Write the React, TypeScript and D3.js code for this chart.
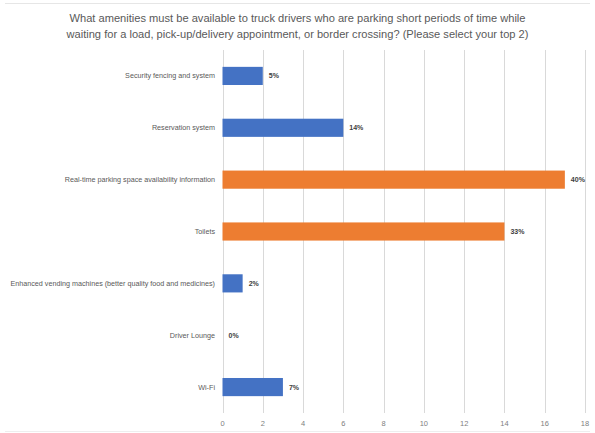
import React from "react";
import * as d3 from "d3";

const categories = [
  "Security fencing and system",
  "Reservation system",
  "Real-time parking space availability information",
  "Toilets",
  "Enhanced vending machines (better quality food and medicines)",
  "Driver Lounge",
  "Wi-Fi",
];
const counts = [2, 6, 17, 14, 1, 0, 3];
const percentLabels = ["5%", "14%", "40%", "33%", "2%", "0%", "7%"];
const highlighted = [false, false, true, true, false, false, false];
const xTicks = [0, 2, 4, 6, 8, 10, 12, 14, 16, 18];
const titleLines = [
  "What amenities must be available to truck drivers who are parking short periods of time while",
  "waiting for a load, pick-up/delivery appointment, or border crossing? (Please select your top 2)",
];

const W = 595;
const H = 433;
const FONT = "'Liberation Sans', Arial, sans-serif";

export default function App() {
  const x = d3.scaleLinear().domain([0, 18]).range([222.5, 585]);
  const y = d3
    .scaleBand<string>()
    .domain(categories)
    .range([50, 413])
    .paddingInner(0.65)
    .paddingOuter(0.325);

  return (
    <svg
      width={W}
      height={H}
      style={{ position: "absolute", left: 0, top: 0, display: "block", background: "#fff" }}
    >
      <line x1={5} x2={590} y1={3.5} y2={3.5} stroke="#e6e6e6" strokeWidth={1} />
      <line x1={5} x2={590} y1={431.5} y2={431.5} stroke="#eeeeee" strokeWidth={1} />
      {titleLines.map((t, i) => (
        <text
          key={i}
          x={W / 2}
          y={22 + i * 15.5}
          textAnchor="middle"
          fontFamily={FONT}
          fontSize={11.5}
          fill="#595959"
          textLength={i === 0 ? 456 : 462}
          lengthAdjust="spacingAndGlyphs"
        >
          {t}
        </text>
      ))}
      {xTicks.map((t) => (
        <g key={t}>
          <line
            x1={Math.round(x(t)) + 0.5}
            x2={Math.round(x(t)) + 0.5}
            y1={50}
            y2={413}
            stroke="#d9d9d9"
            strokeWidth={1}
          />
          <text
            x={x(t)}
            y={426}
            textAnchor="middle"
            fontFamily={FONT}
            fontSize={7.5}
            fill="#808080"
          >
            {t}
          </text>
        </g>
      ))}
      {categories.map((c, i) => {
        const yy = y(c)!;
        const bw = y.bandwidth();
        const w = x(counts[i]) - x(0);
        return (
          <g key={c}>
            {w > 0 && (
              <rect
                x={x(0)}
                y={yy}
                width={w}
                height={bw}
                fill={highlighted[i] ? "#ED7D31" : "#4472C4"}
              />
            )}
            <text
              x={215}
              y={yy + bw / 2}
              dy="0.35em"
              textAnchor="end"
              fontFamily={FONT}
              fontSize={7.2}
              fill="#595959"
            >
              {c}
            </text>
            <text
              x={x(counts[i]) + 6}
              y={yy + bw / 2}
              dy="0.35em"
              fontFamily={FONT}
              fontSize={7}
              fontWeight="bold"
              fill="#404040"
            >
              {percentLabels[i]}
            </text>
          </g>
        );
      })}
    </svg>
  );
}
